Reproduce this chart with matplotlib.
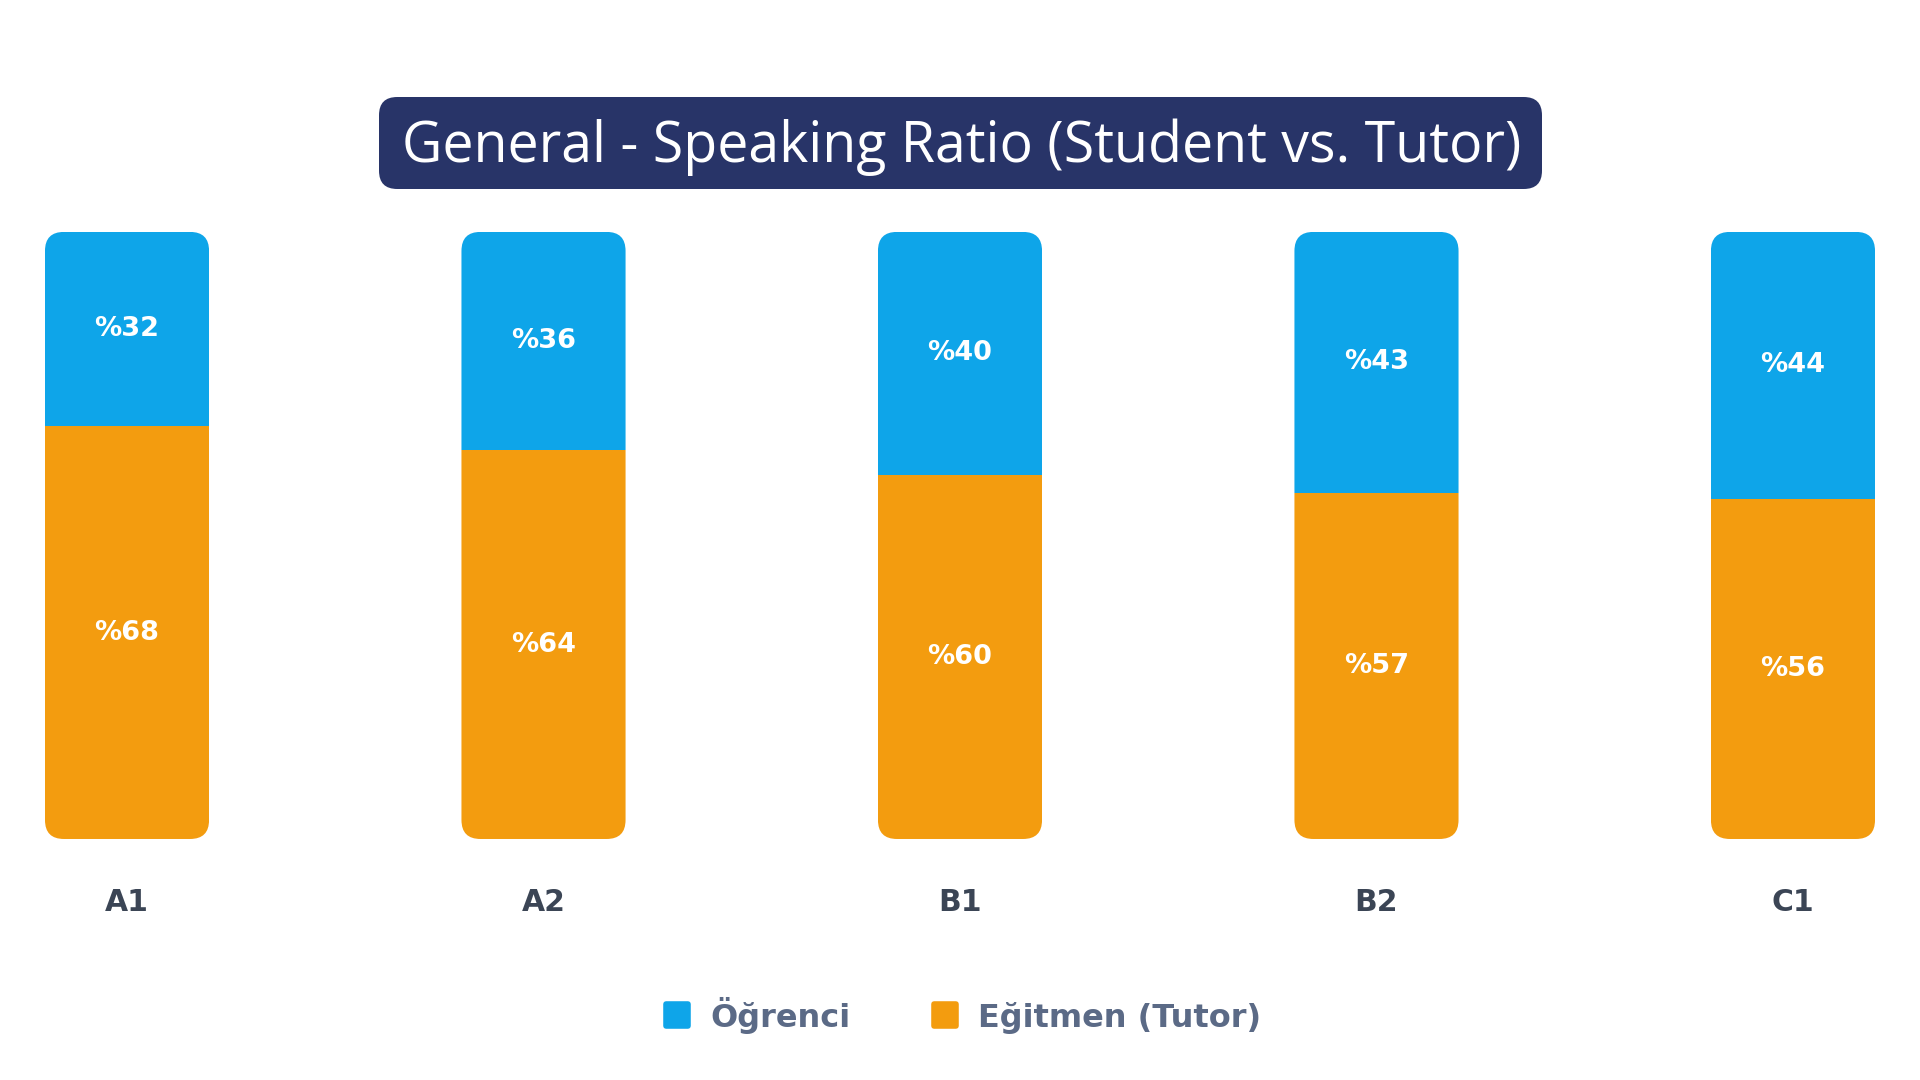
import numpy as np
import matplotlib.pyplot as plt
from matplotlib.patches import FancyBboxPatch
from matplotlib.lines import Line2D
from matplotlib.markers import MarkerStyle

levels = ['A1', 'A2', 'B1', 'B2', 'C1']
ogrenci = [32, 36, 40, 43, 44]
egitmen = [68, 64, 60, 57, 56]

blue = '#0EA5E9'
orange = '#F39C0F'
navy = '#283468'

fig = plt.figure(figsize=(19.2, 10.8), dpi=100)
ax = fig.add_axes([0, 0, 1, 1])
ax.set_xlim(-0.305, 4.305)
ax.set_ylim(-39.7, 138.2)
ax.axis('off')

x = np.arange(len(levels))
w = 0.394

# px per data unit, to get round corners right
fig.canvas.draw()
p0 = ax.transData.transform((0, 0))
p1 = ax.transData.transform((1, 1))
aspect = (p1[0] - p0[0]) / (p1[1] - p0[1])
r = 19 / (p1[0] - p0[0])

bot = ax.bar(x, egitmen, width=w, color=orange, zorder=2)
top = ax.bar(x, ogrenci, width=w, bottom=egitmen, color=blue, zorder=2)

for i in range(len(levels)):
    clip = FancyBboxPatch((x[i] - w / 2, 0), w, 100,
                          boxstyle='round,pad=0,rounding_size=%f' % r,
                          mutation_aspect=aspect, facecolor='none',
                          edgecolor='none', transform=ax.transData)
    ax.add_patch(clip)
    bot[i].set_clip_path(clip)
    top[i].set_clip_path(clip)
    ax.text(x[i], egitmen[i] / 2, '%%%d' % egitmen[i], ha='center', va='center',
            color='white', fontsize=19.5, fontweight='bold', family='DejaVu Sans')
    ax.text(x[i], egitmen[i] + ogrenci[i] / 2, '%%%d' % ogrenci[i], ha='center',
            va='center', color='white', fontsize=19.5, fontweight='bold',
            family='DejaVu Sans')
    ax.text(x[i], -10.4, levels[i], ha='center', va='center', color='#3b4555',
            fontsize=21.5, fontweight='bold', family='DejaVu Sans')

# title box
box = FancyBboxPatch((379 / 1920, 1 - 189 / 1080), 1163 / 1920, 92 / 1080,
                     boxstyle='round,pad=0,rounding_size=0.0095',
                     mutation_aspect=1920 / 1080, facecolor=navy,
                     edgecolor='none', transform=fig.transFigure)
fig.patches.append(box)
fig.text(962 / 1920, 1 - 147 / 1080, 'General - Speaking Ratio (Student vs. Tutor)',
         ha='center', va='center', color='white', fontsize=40, family='Open Sans')

sq = MarkerStyle('s', joinstyle='round')
handles = [Line2D([], [], marker=sq, linestyle='none', markersize=16,
                  markerfacecolor=blue, markeredgecolor=blue, markeredgewidth=4),
           Line2D([], [], marker=sq, linestyle='none', markersize=16,
                  markerfacecolor=orange, markeredgecolor=orange, markeredgewidth=4)]
fig.legend(handles, ['Öğrenci', 'Eğitmen (Tutor)'], loc='center',
           bbox_to_anchor=(962 / 1920, 1 - 1015 / 1080), ncol=2, frameon=False,
           prop={'family': 'DejaVu Sans', 'weight': 'bold', 'size': 23},
           labelcolor='#5b6a86', handletextpad=0.6, columnspacing=2.5,
           handlelength=0.9)

fig.savefig('out.png', dpi=100)
